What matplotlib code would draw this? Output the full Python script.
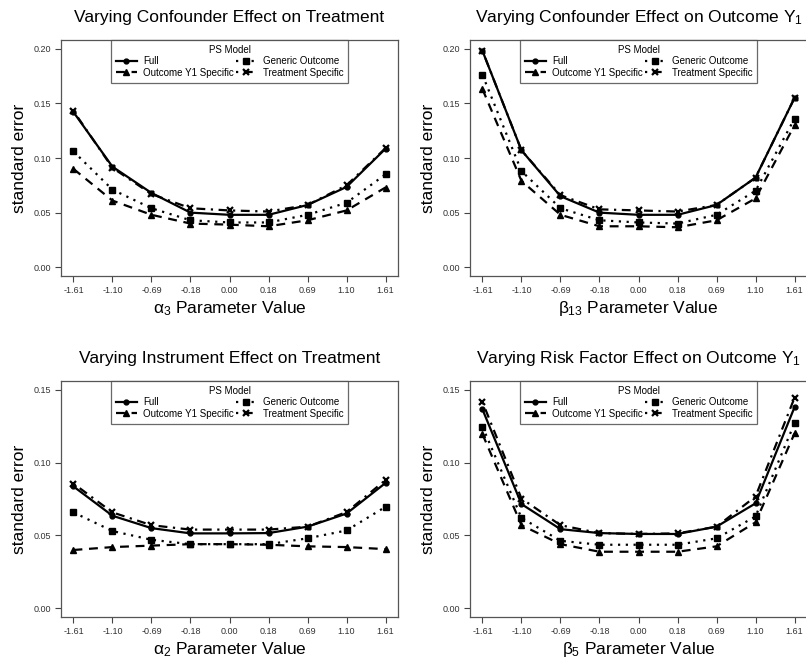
import numpy as np
import matplotlib.pyplot as plt
from matplotlib.lines import Line2D

plt.rcParams['font.family'] = ['Liberation Sans', 'DejaVu Sans']
plt.rcParams['mathtext.fontset'] = 'custom'
plt.rcParams['mathtext.rm'] = 'Liberation Sans'
plt.rcParams['mathtext.it'] = 'Liberation Sans'

param_labels = ["-1.61", "-1.10", "-0.69", "-0.18", "0.00", "0.18", "0.69", "1.10", "1.61"]
models = ["Full", "Generic Outcome", "Outcome Y1 Specific", "Treatment Specific"]

# standard errors per PS model, one block per scenario
conf_trt_full = [0.142, 0.092, 0.068, 0.050, 0.048, 0.048, 0.057, 0.0735, 0.1085]
conf_trt_generic = [0.106, 0.071, 0.054, 0.043, 0.041, 0.041, 0.048, 0.059, 0.085]
conf_trt_outcome = [0.090, 0.061, 0.048, 0.040, 0.039, 0.0375, 0.043, 0.052, 0.073]
conf_trt_treat = [0.143, 0.091, 0.067, 0.054, 0.052, 0.051, 0.057, 0.075, 0.109]

conf_y1_full = [0.198, 0.107, 0.065, 0.050, 0.048, 0.048, 0.057, 0.082, 0.155]
conf_y1_generic = [0.176, 0.088, 0.054, 0.043, 0.041, 0.040, 0.048, 0.070, 0.136]
conf_y1_outcome = [0.163, 0.079, 0.048, 0.0375, 0.0375, 0.0366, 0.043, 0.063, 0.130]
conf_y1_treat = [0.198, 0.107, 0.066, 0.053, 0.052, 0.051, 0.057, 0.082, 0.155]

inst_trt_full = [0.0836, 0.0635, 0.055, 0.0514, 0.0514, 0.0516, 0.056, 0.065, 0.086]
inst_trt_generic = [0.0658, 0.053, 0.047, 0.044, 0.044, 0.044, 0.048, 0.0534, 0.0696]
inst_trt_outcome = [0.040, 0.042, 0.043, 0.044, 0.044, 0.0436, 0.0425, 0.042, 0.0406]
inst_trt_treat = [0.0856, 0.0658, 0.057, 0.054, 0.054, 0.054, 0.056, 0.066, 0.088]

risk_y1_full = [0.1365, 0.0715, 0.0543, 0.0516, 0.051, 0.051, 0.056, 0.072, 0.138]
risk_y1_generic = [0.1247, 0.062, 0.0463, 0.0436, 0.0436, 0.0436, 0.048, 0.063, 0.127]
risk_y1_outcome = [0.1195, 0.057, 0.044, 0.0388, 0.0388, 0.0388, 0.0425, 0.059, 0.120]
risk_y1_treat = [0.1415, 0.0753, 0.057, 0.0516, 0.051, 0.0514, 0.056, 0.0767, 0.1445]

panels = [
    ("Varying Confounder Effect on Treatment", r"$\alpha_3$ Parameter Value", 0.20,
     [conf_trt_full, conf_trt_generic, conf_trt_outcome, conf_trt_treat]),
    ("Varying Confounder Effect on Outcome Y$_1$", r"$\beta_{13}$ Parameter Value", 0.20,
     [conf_y1_full, conf_y1_generic, conf_y1_outcome, conf_y1_treat]),
    ("Varying Instrument Effect on Treatment", r"$\alpha_2$ Parameter Value", 0.15,
     [inst_trt_full, inst_trt_generic, inst_trt_outcome, inst_trt_treat]),
    ("Varying Risk Factor Effect on Outcome Y$_1$", r"$\beta_5$ Parameter Value", 0.15,
     [risk_y1_full, risk_y1_generic, risk_y1_outcome, risk_y1_treat]),
]

styles = [
    dict(ls="-", marker="o", ms=3.5),
    dict(ls=(0, (1, 2.5)), marker="s", ms=4),
    dict(ls=(0, (4, 3)), marker="^", ms=5),
    dict(ls=(0, (1, 2.5, 4, 2.5)), marker="x", ms=5, mew=1.6),
]

W, H = 806, 669
fig = plt.figure(figsize=(W / 100, H / 100), dpi=100)

# axes boxes in pixels: left, top, width, height
boxes = [(61, 40, 337, 236), (470, 40, 337, 236),
         (61, 381, 337, 236), (470, 381, 337, 236)]

x = np.arange(1, len(param_labels) + 1)
grey = "#444444"
# legend fills column by column; this order gives rows Full|Generic, Outcome|Treatment
leg_order = [0, 2, 1, 3]

for (title, xlabel, ymax, series), (l, t, w, h) in zip(panels, boxes):
    ax = fig.add_axes([l / W, 1 - (t + h) / H, w / W, h / H])
    for vals, st in zip(series, styles):
        ax.plot(x, vals, color="black", lw=1.6, **st)
    ext = 0.04 * ymax
    ax.set_ylim(-ext, ymax + ext)
    ax.set_xlim(1 - 0.32, 9.32)
    ax.set_xticks(x)
    ax.set_xticklabels(param_labels)
    yt = np.arange(0, ymax + 1e-9, 0.05)
    ax.set_yticks(yt)
    ax.set_yticklabels([f"{v:.2f}" for v in yt])
    ax.tick_params(labelsize=6.5, colors=grey, labelcolor="#333333", length=4, width=0.8,
                   direction="out", pad=3)
    for sp in ax.spines.values():
        sp.set_color("#555555")
        sp.set_linewidth(0.9)
    ax.set_title(title, fontsize=12.5, pad=13)
    ax.set_xlabel(xlabel, fontsize=12.5, labelpad=3)
    ax.set_ylabel("standard error", fontsize=12.5, labelpad=5)

    handles = [Line2D([], [], color="black", lw=1.6, **st) for st in styles]
    leg = ax.legend([handles[i] for i in leg_order], [models[i] for i in leg_order],
                    loc="upper center", ncol=2, title="PS Model",
                    fontsize=7, title_fontsize=7, frameon=True, fancybox=False,
                    borderaxespad=0, handlelength=2.2, handletextpad=0.6,
                    columnspacing=0.2, labelspacing=0.15, borderpad=0.5,
                    bbox_to_anchor=(0.5, 1.0))
    leg.get_frame().set_edgecolor("#444444")
    leg.get_frame().set_linewidth(0.9)

fig.savefig("out.png", dpi=100)
